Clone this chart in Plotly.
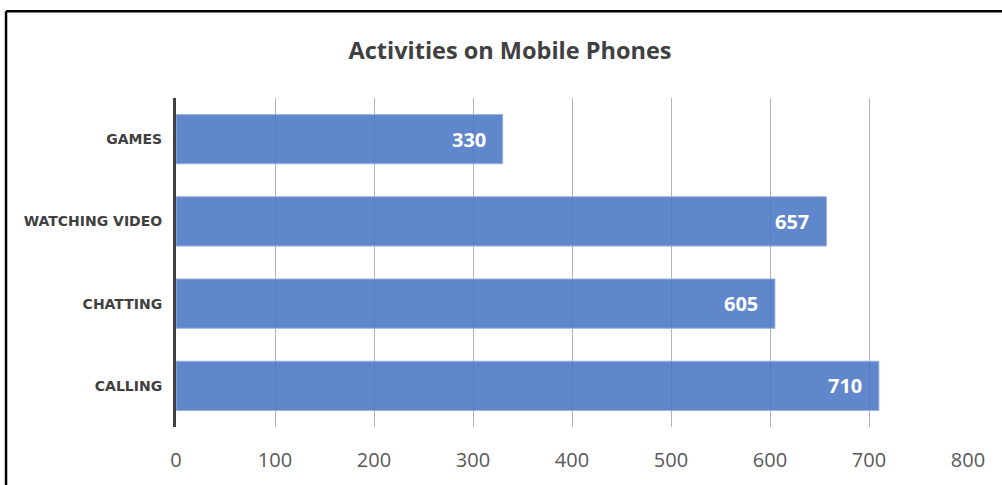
import plotly.graph_objects as go

# Chart data
activities = ["GAMES", "WATCHING VIDEO", "CHATTING", "CALLING"]
counts = [330, 657, 605, 710]
x_ticks = [0, 100, 200, 300, 400, 500, 600, 700, 800]

BAR_COLOR = "rgba(72,116,196,0.87)"
BAR_EDGE = "#9db4e0"
TEXT_DARK = "#404040"

fig = go.Figure(
    go.Bar(
        x=counts,
        y=activities,
        orientation="h",
        width=0.6,
        marker=dict(color=BAR_COLOR, line=dict(color=BAR_EDGE, width=1)),
        hoverinfo="skip",
    )
)

# Value labels placed inside the end of each bar
for name, value in zip(activities, counts):
    fig.add_annotation(
        x=value,
        y=name,
        text=f"<b>{value}</b>",
        showarrow=False,
        xanchor="right",
        yanchor="middle",
        xshift=-15,
        font=dict(family="Open Sans", size=20, color="white"),
    )

# Frame around the chart (top and left edges)
fig.add_shape(type="line", xref="paper", yref="paper",
              x0=-0.2146, x1=1.06, y0=1.2636, y1=1.2636,
              line=dict(color="black", width=2.5))
fig.add_shape(type="line", xref="paper", yref="paper",
              x0=-0.2146, x1=-0.2146, y0=1.2636, y1=-0.25,
              line=dict(color="black", width=2.5))

fig.update_layout(
    width=1002,
    height=485,
    margin=dict(l=176, r=34, t=98, b=55),
    paper_bgcolor="white",
    plot_bgcolor="white",
    showlegend=False,
    title=dict(
        text="<b>Activities on Mobile Phones</b>",
        x=0.509,
        xref="container",
        xanchor="center",
        y=0.895,
        yref="container",
        yanchor="middle",
        font=dict(family="Open Sans", size=23.5, color=TEXT_DARK),
    ),
    xaxis=dict(
        range=[0, 800],
        tickvals=x_ticks,
        ticktext=[str(t) for t in x_ticks],
        showgrid=True,
        gridcolor="#b4b4b4",
        gridwidth=1,
        zeroline=False,
        showline=False,
        ticks="",
        ticklabelstandoff=19,
        tickfont=dict(family="Open Sans", size=20, color="#595959"),
        fixedrange=True,
    ),
    yaxis=dict(
        categoryorder="array",
        categoryarray=activities,
        autorange="reversed",
        showgrid=False,
        zeroline=False,
        showline=True,
        linecolor=TEXT_DARK,
        linewidth=3,
        ticks="",
        ticklabelstandoff=8,
        tickfont=dict(family="DejaVu Sans", size=14, color=TEXT_DARK, weight="bold"),
        fixedrange=True,
    ),
    bargap=0.4,
)

fig.write_html("out.html")
